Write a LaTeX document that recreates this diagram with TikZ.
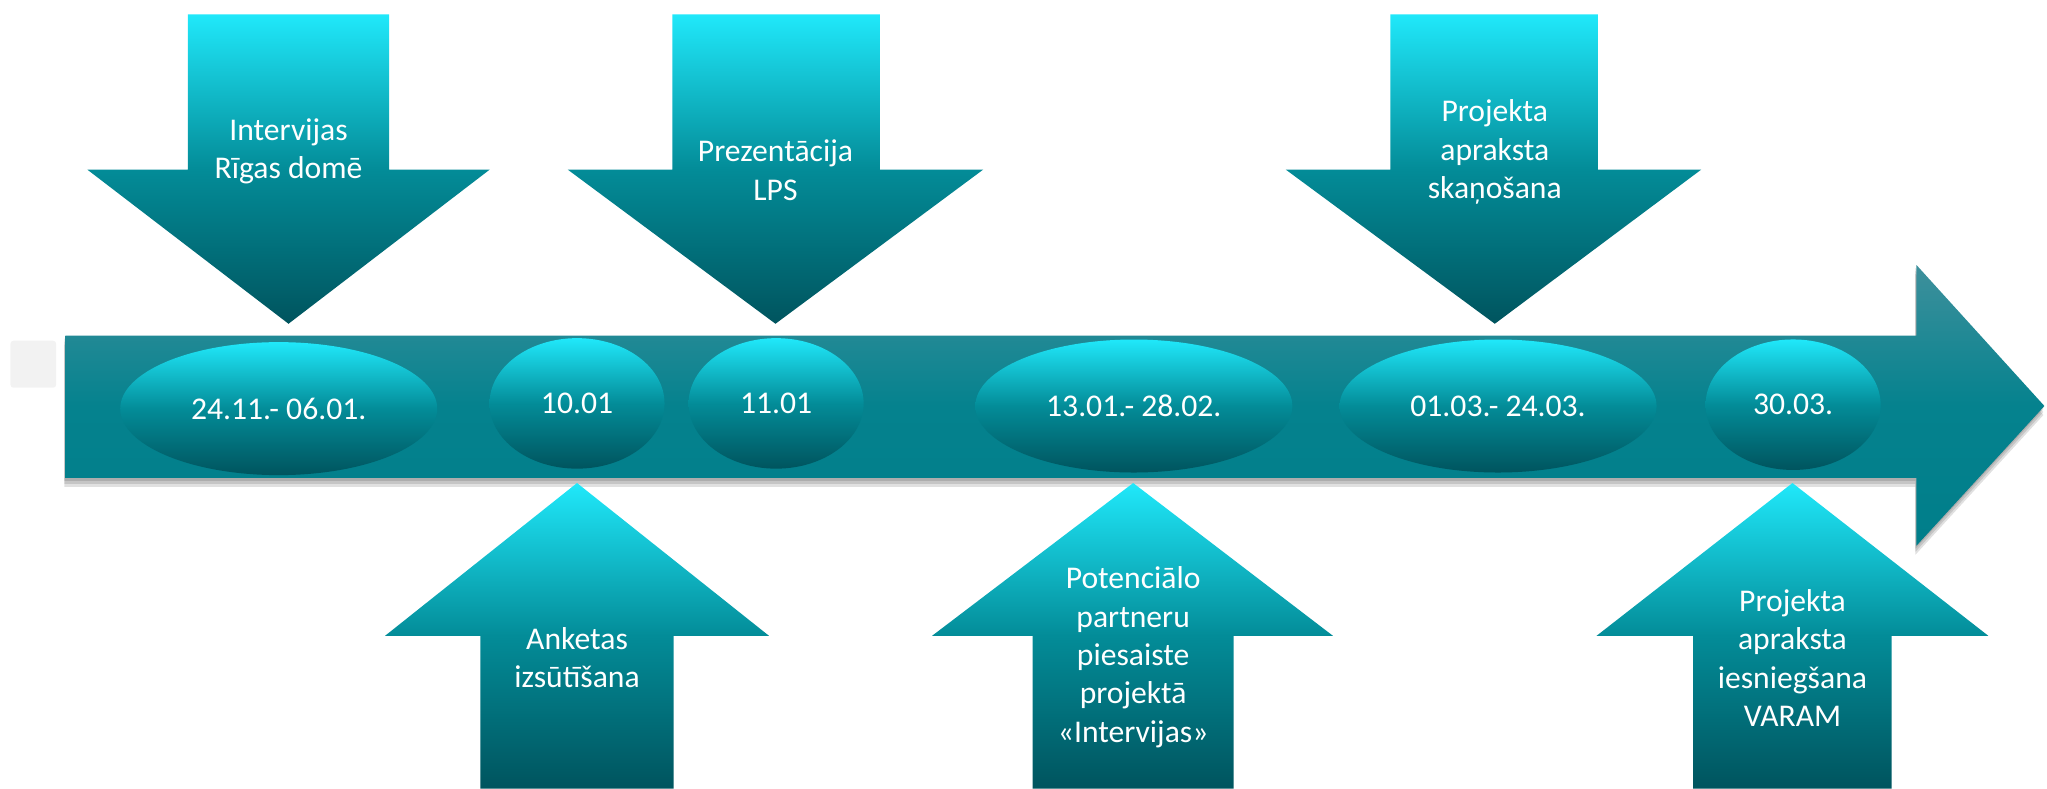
\documentclass[tikz,border=0pt]{standalone}
\usepackage{fontspec}
\setmainfont{Carlito}
\usetikzlibrary{shapes.geometric,shadows}
\definecolor{cyantop}{RGB}{32,232,250}
\definecolor{tealmid}{RGB}{3,140,152}
\definecolor{tealdark}{RGB}{0,84,94}
\definecolor{bartop}{RGB}{62,144,156}
\definecolor{barmid}{RGB}{5,130,142}
\definecolor{barbot}{RGB}{0,126,138}
\begin{document}
\begin{tikzpicture}[x=0.2611mm,y=-0.2611mm,
  tealfade/.style={top color=cyantop,bottom color=tealdark,middle color=tealmid},
  bubble/.style={ellipse,tealfade,inner sep=0pt,minimum width=35mm,minimum height=26.1mm},
  wide/.style={bubble,minimum width=63.4mm,minimum height=26.6mm},
  lbl/.style={text=white,align=center,font=\fontsize{18}{21.8}\selectfont},
  soft/.style={drop shadow={shadow xshift=-0.2mm,shadow yshift=-#1,opacity=0.12,fill=black}}]
\useasboundingbox (0,0) rectangle (1568,604);
\fill[gray!10,rounded corners=0.6mm] (8,261) rectangle (43,297);
\path[top color=bartop,bottom color=barbot,middle color=barmid,
  soft=1.8mm,soft=1.2mm,soft=0.6mm]
  (50,257)--(1468,257)--(1468,203)--(1566,311)--(1468,418)--(1468,366)--(50,366)--cycle;
\node[wide,lbl] (d1) at (213.5,313) {24.11.- 06.01.};
\node[bubble,lbl] (d2) at (442,309) {10.01};
\node[bubble,lbl] (d3) at (594.5,309) {11.01};
\node[wide,lbl] (d4) at (868.5,311) {13.01.- 28.02.};
\node[wide,lbl] (d5) at (1147.5,311) {01.03.- 24.03.};
\node[bubble,lbl] (d6) at (1373.5,310) {30.03.};
\shade[tealfade] (144,11)--(298,11)--(298,130)--(375,130)--(221,248)--(67,130)--(144,130)--cycle;
\shade[tealfade] (515,11)--(674,11)--(674,130)--(753,130)--(594,248)--(435,130)--(515,130)--cycle;
\shade[tealfade] (1065,11)--(1224,11)--(1224,130)--(1303,130)--(1145,248)--(985,130)--(1065,130)--cycle;
\shade[tealfade] (442,370)--(589,487)--(516,487)--(516,604)--(368,604)--(368,487)--(295,487)--cycle;
\shade[tealfade] (868,370)--(1021,487)--(945,487)--(945,604)--(791,604)--(791,487)--(714,487)--cycle;
\shade[tealfade] (1373,370)--(1523,487)--(1449,487)--(1449,604)--(1297,604)--(1297,487)--(1223,487)--cycle;
\node[lbl] (t1) at (221,116) {Intervijas\\Rīgas domē};
\node[lbl] (t2) at (594,130.5) {Prezentācija\\LPS};
\node[lbl] (t3) at (1145,116.5) {Projekta\\apraksta\\skaņošana};
\node[lbl] (b1) at (442,504) {Anketas\\izsūtīšana};
\node[lbl] (b2) at (868,503.5) {Potenciālo\\partneru\\piesaiste\\projektā\\«Intervijas»};
\node[lbl] (b3) at (1373,504) {Projekta\\apraksta\\iesniegšana\\VARAM};
\end{tikzpicture}
\end{document}
